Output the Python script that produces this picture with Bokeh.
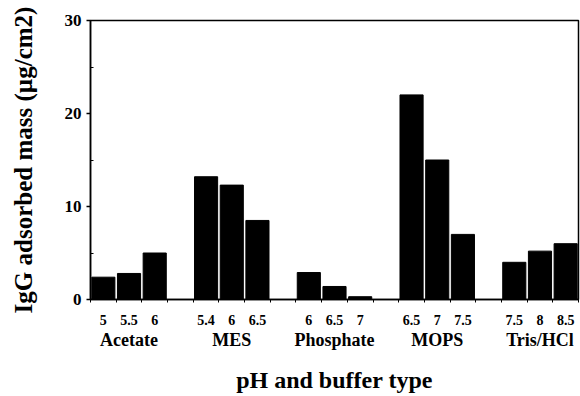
from bokeh.plotting import figure
from bokeh.models import Range1d, FixedTicker, LinearAxis
from bokeh.embed import file_html
from bokeh.resources import INLINE

buffers = ["Acetate", "MES", "Phosphate", "MOPS", "Tris/HCl"]
ph_labels = [["5", "5.5", "6"], ["5.4", "6", "6.5"], ["6", "6.5", "7"],
             ["6.5", "7", "7.5"], ["7.5", "8", "8.5"]]
igg_mass = [[2.4, 2.8, 5.0], [13.2, 12.3, 8.5], [2.9, 1.4, 0.3],
            [22.0, 15.0, 7.0], [4.0, 5.2, 6.0]]
y_ticks = [0, 10, 20, 30]
y_minor = [5, 15, 25]

FONT = "Liberation Serif"
slots_per_group = 4  # 3 bars + 1 gap slot

xs, tops, ph_over = [], [], {}
for g, (labs, vals) in enumerate(zip(ph_labels, igg_mass)):
    for i, (lab, v) in enumerate(zip(labs, vals)):
        x = g * slots_per_group + i + 0.5
        xs.append(x)
        tops.append(v)
        ph_over[x] = lab
group_centers = [g * slots_per_group + 1.5 for g in range(len(buffers))]
buf_over = {c: b for c, b in zip(group_centers, buffers)}
n_slots = len(buffers) * slots_per_group - 1
boundaries = list(range(0, n_slots + 1))

p = figure(width=580, height=396, output_backend="svg", toolbar_location=None,
           x_range=Range1d(0, n_slots), y_range=Range1d(0, 30),
           x_axis_location=None,
           min_border_left=90, min_border_right=2, min_border_top=20,
           min_border_bottom=97)
p.grid.visible = False
p.outline_line_color = "black"
p.outline_line_width = 1.5
p.background_fill_color = "white"
p.border_fill_color = "white"

p.vbar(x=xs, top=tops, width=0.9, color="black")

ya = p.yaxis[0]
ya.ticker = FixedTicker(ticks=y_ticks, minor_ticks=y_minor)
ya.major_tick_out = 4
ya.major_tick_in = 0
ya.minor_tick_out = 0
ya.minor_tick_in = 3
ya.axis_line_width = 1.5
ya.major_tick_line_width = 1.5
ya.major_label_standoff = 5
ya.major_label_text_font = FONT
ya.major_label_text_font_style = "bold"
ya.major_label_text_font_size = "17px"
ya.major_label_text_color = "black"
ya.axis_label = "IgG adsorbed mass (µg/cm2)"
ya.axis_label_text_font = FONT
ya.axis_label_text_font_style = "bold"
ya.axis_label_text_font_size = "25px"
ya.axis_label_text_color = "black"
ya.axis_label_standoff = 25

ax_ph = LinearAxis(ticker=FixedTicker(ticks=xs, minor_ticks=boundaries),
                   major_label_overrides=ph_over)
ax_ph.major_tick_out = 0
ax_ph.major_tick_in = 0
ax_ph.minor_tick_out = 3
ax_ph.minor_tick_in = 0
ax_ph.axis_line_width = 1.5
ax_ph.major_label_standoff = 12
ax_ph.major_label_text_font = FONT
ax_ph.major_label_text_font_style = "bold"
ax_ph.major_label_text_font_size = "14px"
ax_ph.major_label_text_color = "black"

ax_buf = LinearAxis(ticker=FixedTicker(ticks=group_centers, minor_ticks=[]),
                    major_label_overrides=buf_over)
ax_buf.axis_line_color = None
ax_buf.major_tick_line_color = None
ax_buf.minor_tick_line_color = None
ax_buf.major_tick_out = 0
ax_buf.major_tick_in = 0
ax_buf.major_label_standoff = 2
ax_buf.major_label_text_font = FONT
ax_buf.major_label_text_font_style = "bold"
ax_buf.major_label_text_font_size = "18px"
ax_buf.major_label_text_color = "black"
ax_buf.axis_label = "pH and buffer type"
ax_buf.axis_label_text_font = FONT
ax_buf.axis_label_text_font_style = "bold"
ax_buf.axis_label_text_font_size = "24px"
ax_buf.axis_label_text_color = "black"
ax_buf.axis_label_standoff = 14

p.add_layout(ax_ph, "below")
p.add_layout(ax_buf, "below")

open("out.html", "w").write(file_html(p, INLINE))
